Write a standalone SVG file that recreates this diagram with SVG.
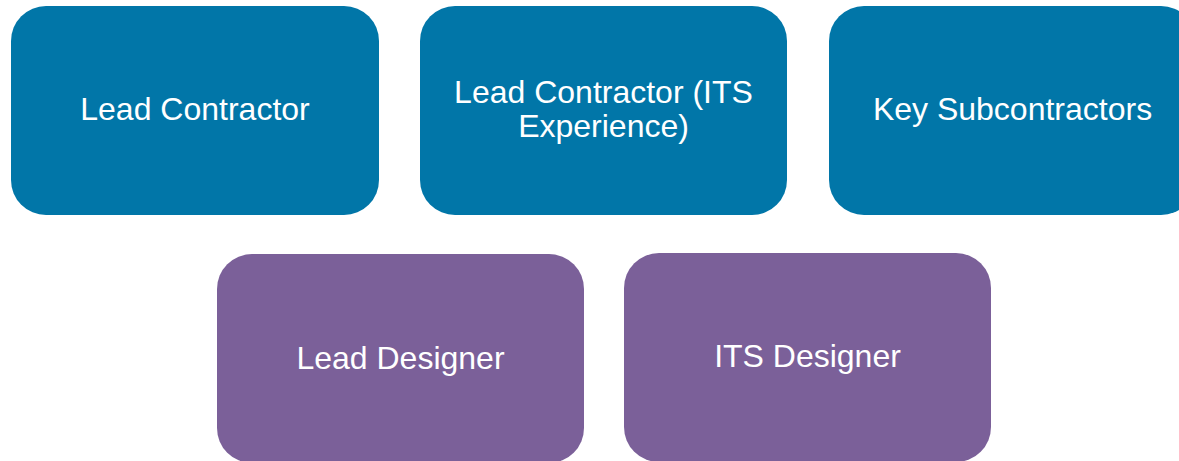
<svg xmlns="http://www.w3.org/2000/svg" width="1179" height="461" viewBox="0 0 1179 461">
<style>
.blue{fill:#0176A8}
.purple{fill:#7B6099}
.lbl{font-family:"Liberation Sans",Arial,sans-serif;font-size:32px;fill:#ffffff;text-anchor:middle}
</style>
<rect width="1179" height="461" fill="#ffffff"/>
<g id="connectors"></g>
<g id="lead-contractor">
<rect class="blue" x="11" y="6" width="368" height="209" rx="35" ry="35"/>
<text class="lbl" x="195" y="120">Lead Contractor</text>
</g>
<g id="lead-contractor-its">
<rect class="blue" x="420" y="6" width="367" height="209" rx="35" ry="35"/>
<text class="lbl" x="603.5" y="103">Lead Contractor (ITS</text>
<text class="lbl" x="603.5" y="137">Experience)</text>
</g>
<g id="key-subcontractors">
<rect class="blue" x="829" y="6" width="367" height="209" rx="35" ry="35"/>
<text class="lbl" x="1012.5" y="120">Key Subcontractors</text>
</g>
<g id="lead-designer">
<rect class="purple" x="217" y="254" width="367" height="209" rx="35" ry="35"/>
<text class="lbl" x="400.5" y="369">Lead Designer</text>
</g>
<g id="its-designer">
<rect class="purple" x="624" y="253" width="367" height="209" rx="35" ry="35"/>
<text class="lbl" x="807.5" y="367">ITS Designer</text>
</g>
</svg>
